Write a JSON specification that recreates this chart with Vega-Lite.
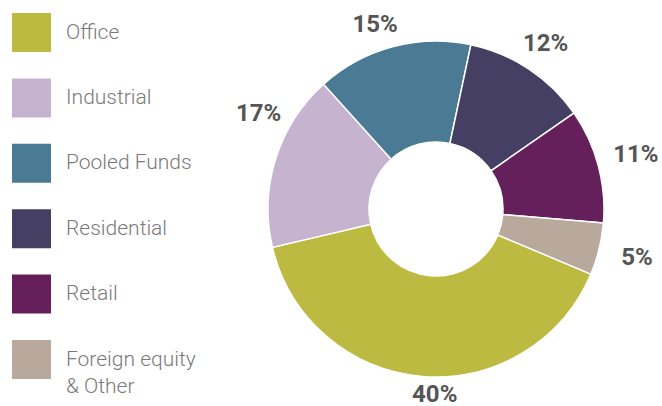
{
  "$schema": "https://vega.github.io/schema/vega-lite/v6.json",
  "width": 340,
  "height": 394,
  "autosize": {"type": "none"},
  "padding": {"left": 266, "top": 12, "right": 56, "bottom": 0},
  "background": "white",
  "config": {"view": {"stroke": null}},
  "data": {
    "values": [
      {"category": "Office", "value": 40, "label": "40%", "rank": 4},
      {"category": "Industrial", "value": 17, "label": "17%", "rank": 5},
      {"category": "Pooled Funds", "value": 15, "label": "15%", "rank": 6},
      {"category": "Residential", "value": 12, "label": "12%", "rank": 1},
      {"category": "Retail", "value": 11, "label": "11%", "rank": 2},
      {"category": "Foreign equity & Other", "value": 5, "label": "5%", "rank": 3}
    ]
  },
  "encoding": {
    "theta": {"field": "value", "type": "quantitative", "stack": true, "scale": {"range": [0.2094, 6.4926]}},
    "order": {"field": "rank", "type": "quantitative"}
  },
  "layer": [
    {
      "mark": {"type": "arc", "outerRadius": 168, "innerRadius": 67, "stroke": "white", "strokeWidth": 1.5},
      "encoding": {
        "color": {
          "field": "category",
          "type": "nominal",
          "sort": ["Office", "Industrial", "Pooled Funds", "Residential", "Retail", "Foreign equity & Other"],
          "scale": {
            "domain": ["Office", "Industrial", "Pooled Funds", "Residential", "Retail", "Foreign equity & Other"],
            "range": ["#BDBA42", "#C5B3CF", "#4A7A94", "#454063", "#651F5B", "#B9A89C"]
          },
          "legend": {
            "title": null,
            "orient": "none",
            "legendX": -254,
            "legendY": 1,
            "padding": 0,
            "symbolType": "square",
            "symbolSize": 1521,
            "symbolStrokeWidth": 0,
            "symbolOpacity": 1,
            "rowPadding": 26.4,
            "labelOffset": 15,
            "labelFontSize": 21,
            "labelFont": "Roboto",
            "labelFontWeight": 300,
            "labelColor": "#7a7a7a",
            "labelLimit": 220,
            "labelExpr": "datum.label == 'Foreign equity & Other' ? ['Foreign equity', '& Other'] : datum.label",
            "encoding": {"labels": {"lineHeight": {"value": 27}, "dy": {"signal": "(datum.index === 5 || datum.value == 'Foreign equity & Other') ? -12 : 0"}}}
          }
        }
      }
    },
    {
      "mark": {"type": "text", "radius": 186, "thetaOffset": -0.077, "font": "Roboto", "fontSize": 24, "fontWeight": "bold", "color": "#555555", "align": "center", "baseline": "middle"},
      "encoding": {"text": {"condition": {"test": "datum.category == 'Office'", "field": "label", "type": "nominal"}, "value": ""}}
    },
    {
      "mark": {"type": "text", "radius": 201, "thetaOffset": 0.187, "font": "Roboto", "fontSize": 24, "fontWeight": "bold", "color": "#555555", "align": "center", "baseline": "middle"},
      "encoding": {"text": {"condition": {"test": "datum.category == 'Industrial'", "field": "label", "type": "nominal"}, "value": ""}}
    },
    {
      "mark": {"type": "text", "radius": 194, "thetaOffset": -0.057, "font": "Roboto", "fontSize": 24, "fontWeight": "bold", "color": "#555555", "align": "center", "baseline": "middle"},
      "encoding": {"text": {"condition": {"test": "datum.category == 'Pooled Funds'", "field": "label", "type": "nominal"}, "value": ""}}
    },
    {
      "mark": {"type": "text", "radius": 198, "font": "Roboto", "fontSize": 24, "fontWeight": "bold", "color": "#555555", "align": "center", "baseline": "middle"},
      "encoding": {"text": {"condition": {"test": "datum.category == 'Residential'", "field": "label", "type": "nominal"}, "value": ""}}
    },
    {
      "mark": {"type": "text", "radius": 207, "font": "Roboto", "fontSize": 24, "fontWeight": "bold", "color": "#555555", "align": "center", "baseline": "middle"},
      "encoding": {"text": {"condition": {"test": "datum.category == 'Retail' || datum.category == 'Foreign equity & Other'", "field": "label", "type": "nominal"}, "value": ""}}
    }
  ]
}
